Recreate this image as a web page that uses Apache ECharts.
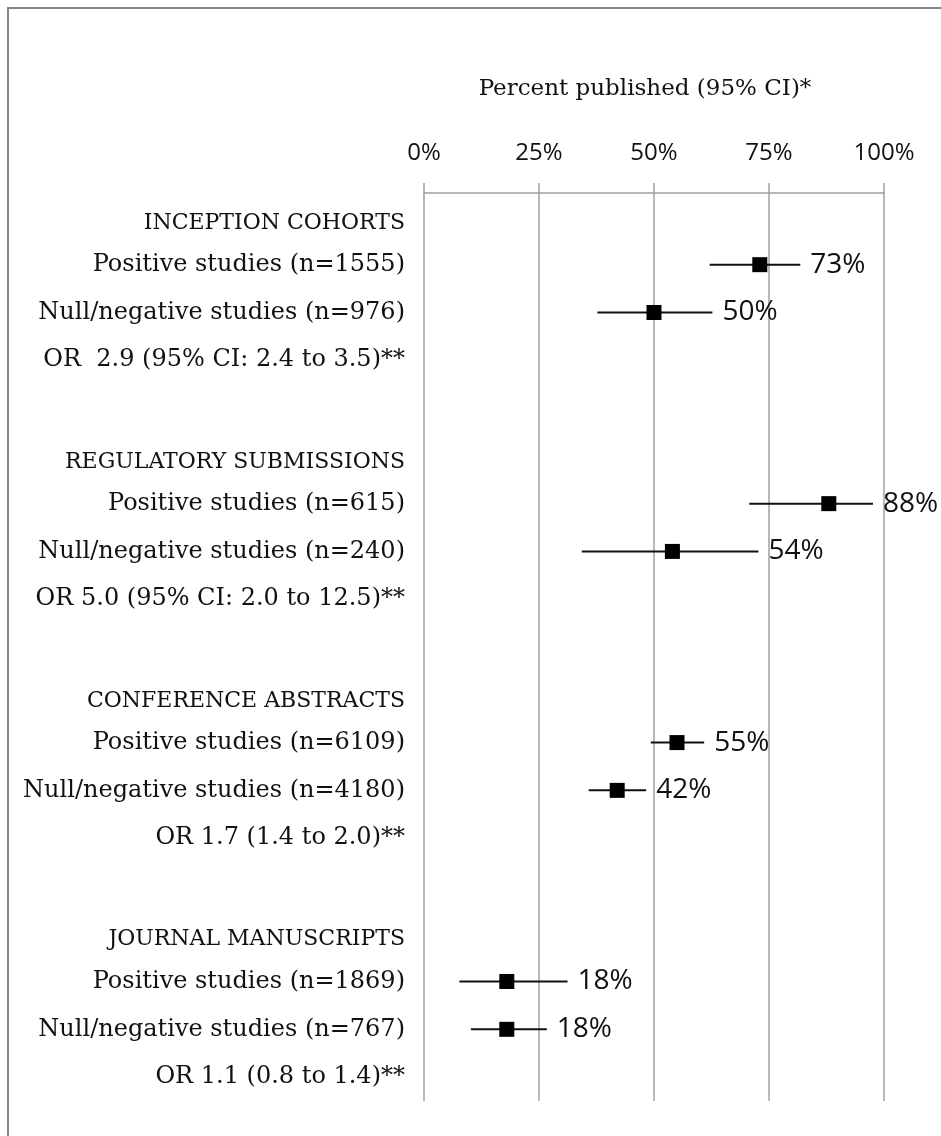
<!DOCTYPE html>
<html>
<head>
<meta charset="utf-8">
<script src="https://cdn.jsdelivr.net/npm/echarts@6/dist/echarts.min.js"></script>
<style>
  html, body { margin: 0; padding: 0; background: #ffffff; }
  #chart { width: 941px; height: 1136px; }
</style>
</head>
<body>
<div id="chart"></div>
<script>
// Row labels, top to bottom (blank rows separate the four study groups)
const rowLabels = [
  'INCEPTION COHORTS',
  'Positive studies (n=1555)',
  'Null/negative studies (n=976)',
  'OR  2.9 (95% CI: 2.4 to 3.5)**',
  '',
  'REGULATORY SUBMISSIONS',
  'Positive studies (n=615)',
  'Null/negative studies (n=240)',
  'OR 5.0 (95% CI: 2.0 to 12.5)**',
  '',
  'CONFERENCE ABSTRACTS',
  'Positive studies (n=6109)',
  'Null/negative studies (n=4180)',
  'OR 1.7 (1.4 to 2.0)**',
  '',
  'JOURNAL MANUSCRIPTS',
  'Positive studies (n=1869)',
  'Null/negative studies (n=767)',
  'OR 1.1 (0.8 to 1.4)**'
];
const headerRows = [0, 5, 10, 15];

// Percent published with 95% CI, one entry per study row
const pointRows = [1, 2, 6, 7, 11, 12, 16, 17];
const estimates = [73, 50, 88, 54, 55, 42, 18, 18];
const lowerCI   = [62.1, 37.7, 70.7, 34.3, 49.3, 35.8, 7.7, 10.2];
const upperCI   = [81.8, 62.7, 97.6, 72.7, 60.9, 48.3, 31.2, 26.7];

// Axis ticks
const tickMin = 0, tickMax = 100, tickStep = 25;

const forestData = pointRows.map((r, i) => [lowerCI[i], upperCI[i], estimates[i], r]);

const chart = echarts.init(document.getElementById('chart'), null, { renderer: 'canvas' });

chart.setOption({
  animation: false,
  backgroundColor: '#ffffff',
  graphic: [{
    type: 'rect',
    shape: { x: 8, y: 8, width: 1000, height: 1200 },
    style: { fill: 'none', stroke: '#858585', lineWidth: 2 },
    z: 100
  }],
  grid: { left: 424, right: 57, top: 193, bottom: 35, containLabel: false },
  xAxis: {
    type: 'value',
    position: 'top',
    min: tickMin,
    max: tickMax,
    interval: tickStep,
    name: 'Percent published (95% CI)*',
    nameLocation: 'middle',
    nameGap: 92,
    nameTextStyle: {
      fontFamily: 'DejaVu Serif', fontSize: 23, color: '#111111',
      padding: [0, 18, 0, 0]
    },
    axisLine: { show: true, lineStyle: { color: '#a0a0a0', width: 1.5 } },
    axisTick: { show: true, inside: false, length: 10, lineStyle: { color: '#a0a0a0', width: 1.5 } },
    axisLabel: {
      formatter: '{value}%',
      margin: 28,
      fontFamily: 'Open Sans', fontSize: 24, color: '#111111'
    },
    splitLine: { show: true, lineStyle: { color: '#a0a0a0', width: 1.5 } }
  },
  yAxis: {
    type: 'category',
    inverse: true,
    data: rowLabels,
    axisLine: { show: false },
    axisTick: { show: false },
    splitLine: { show: false },
    axisLabel: {
      margin: 19,
      interval: 0,
      fontFamily: 'DejaVu Serif', fontSize: 24, color: '#111111',
      formatter: (value, index) => headerRows.includes(index) ? '{h|' + value + '}' : value,
      rich: {
        h: { fontFamily: 'DejaVu Serif', fontSize: 22, color: '#111111', padding: [12, 0, 0, 0] }
      }
    }
  },
  series: [{
    type: 'custom',
    data: forestData,
    encode: { x: [0, 1, 2], y: 3 },
    renderItem: (params, api) => {
      const row = api.value(3);
      const lo = api.coord([api.value(0), row]);
      const hi = api.coord([api.value(1), row]);
      const mid = api.coord([api.value(2), row]);
      const s = 15;
      return {
        type: 'group',
        children: [
          {
            type: 'line',
            shape: { x1: lo[0], y1: lo[1], x2: hi[0], y2: hi[1] },
            style: { stroke: '#111111', lineWidth: 2 }
          },
          {
            type: 'rect',
            shape: { x: mid[0] - s / 2, y: mid[1] - s / 2, width: s, height: s },
            style: { fill: '#000000' }
          },
          {
            type: 'text',
            style: {
              x: hi[0] + 10, y: hi[1],
              text: api.value(2) + '%',
              textAlign: 'left', textVerticalAlign: 'middle',
              fontFamily: 'Open Sans', fontSize: 28, fill: '#111111'
            }
          }
        ]
      };
    }
  }]
});
</script>
</body>
</html>
